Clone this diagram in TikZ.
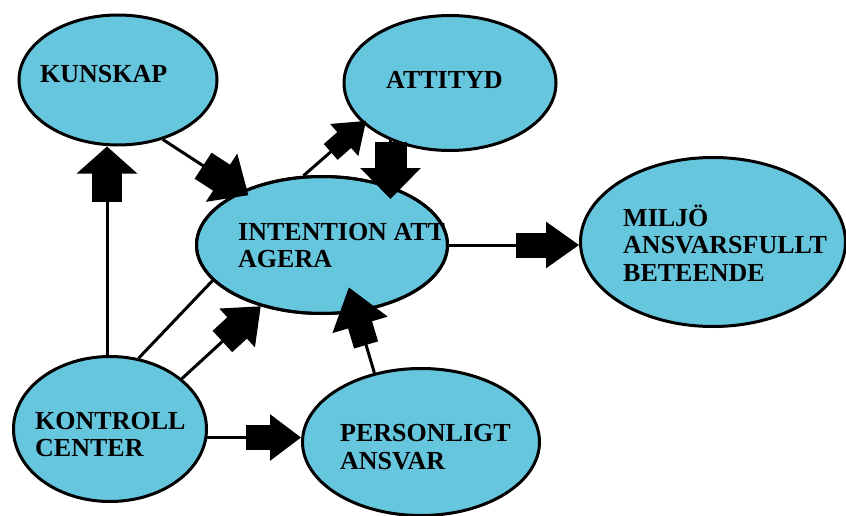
\documentclass[tikz,border=0pt]{standalone}
\usepackage{fontspec}
\setmainfont{Liberation Serif}
\usetikzlibrary{shapes.geometric,arrows.meta,calc}
\definecolor{bub}{RGB}{102,198,222}
\begin{document}
\begin{tikzpicture}[x=1pt,y=-1pt,
  bubble/.style={ellipse,draw=black,line width=3pt,fill=bub,inner sep=0pt},
  lbl/.style={anchor=base west,inner sep=0pt,font=\fontsize{26}{27.5}\selectfont\bfseries},
  conn/.style={line width=3pt},
  blk/.style n args={4}{conn,-{Rectangle[length=#1,width=#2,sep=-2pt]Triangle[length=#3,width=#4]}}
]
\useasboundingbox (0,0) rectangle (846,516);
% bubbles
\node[bubble,minimum width=198pt,minimum height=130pt] (kun) at (118,80) {};
\node[bubble,minimum width=212pt,minimum height=135pt] (att) at (450,83) {};
\node[bubble,minimum width=251pt,minimum height=137pt] (int) at (322,245) {};
\node[bubble,minimum width=265pt,minimum height=169pt] (mil) at (713,242) {};
\node[bubble,minimum width=193pt,minimum height=145pt] (kon) at (110,429) {};
\node[bubble,minimum width=237pt,minimum height=147pt] (per) at (421,442) {};
% labels
\node[lbl] (kunT) at (40,83) {KUNSKAP};
\node[lbl] (attT) at (386,89) {ATTITYD};
\node[lbl] (intT1) at (238,240) {INTENTION ATT};
\node[lbl] (intT2) at (238,267) {AGERA};
\node[lbl] (milT1) at (623,226) {MILJÖ};
\node[lbl] (milT2) at (623,253) {ANSVARSFULLT};
\node[lbl] (milT3) at (623,281) {BETEENDE};
\node[lbl] (konT1) at (35,429) {KONTROLL};
\node[lbl] (konT2) at (35,456) {CENTER};
\node[lbl] (perT1) at (340,441) {PERSONLIGT};
\node[lbl] (perT2) at (340,469) {ANSVAR};
\draw[line width=3pt] (int.center) ellipse [x radius=125.5pt, y radius=68.5pt];
% connectors
\draw[blk={30pt}{30pt}{27pt}{60pt}] ([xshift=-3pt]kon.north) -- ([xshift=-11pt]kun.south);
\draw[blk={26pt}{25pt}{31pt}{46pt}] (kon.-5) -- (kon.-5 -| per.west);
\draw[blk={32pt}{25pt}{33pt}{46pt}] (int.east) -- (int.east -| mil.west);
\draw[blk={28pt}{32pt}{31pt}{60pt},shorten >=-24pt] (att.-136.5) -- (att.-136.5 |- int.north);
\draw[blk={20pt}{21pt}{29pt}{42pt},shorten >=-4pt] (int.105) -- (att.-155);
\draw[blk={24pt}{31pt}{32pt}{57pt},shorten >=-8pt] (kun.-53) -- (int.146.6);
\draw[conn] (kon.68.5) -- (int.-162);
\draw[blk={22pt}{29pt}{32pt}{52pt}] (kon.35.8) -- (int.-135.5);
\draw[blk={23pt}{25pt}{39pt}{57pt},shorten >=-26pt] (per.124.8) -- (int.-63);
\end{tikzpicture}
\end{document}
